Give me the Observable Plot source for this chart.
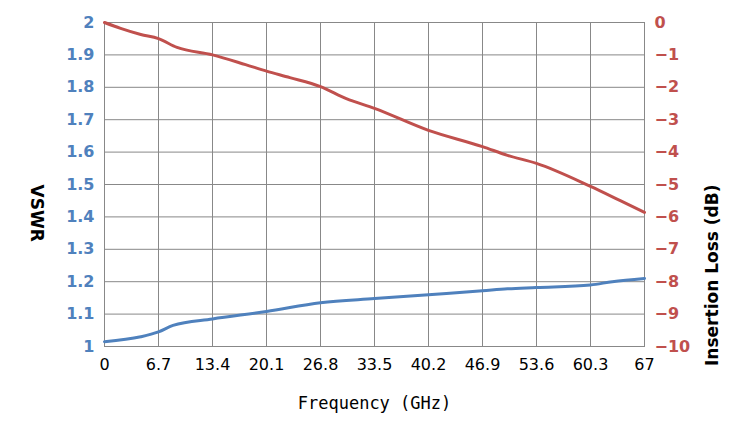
<!DOCTYPE html>
<html><head>
<script src="https://cdn.jsdelivr.net/npm/d3@7"></script>
<script src="https://cdn.jsdelivr.net/npm/@observablehq/plot@0.6"></script>
<style>body{margin:0;background:#fff}</style>
</head><body><div id="c"></div>
<script>
const xTicks = [0, 6.7, 13.4, 20.1, 26.8, 33.5, 40.2, 46.9, 53.6, 60.3, 67];
const vswrTicks = [1, 1.1, 1.2, 1.3, 1.4, 1.5, 1.6, 1.7, 1.8, 1.9, 2];
const lossTicks = [0, -1, -2, -3, -4, -5, -6, -7, -8, -9, -10];
const vswrFreq = [0, 4.5, 6.7, 8.5, 13.4, 20.1, 26.8, 33.5, 40.2, 46.9, 50, 53.6, 60.3, 63, 67];
const vswrVal = [1.015, 1.03, 1.045, 1.065, 1.085, 1.108, 1.135, 1.148, 1.16, 1.172, 1.178, 1.182, 1.19, 1.2, 1.21];
const lossFreq = [0, 2, 4.5, 6.7, 9, 13.4, 17.5, 20.1, 23, 26.8, 30, 33.5, 40.2, 46.9, 50, 53.6, 60.3, 64, 67];
const lossVal = [0, -0.18, -0.37, -0.5, -0.77, -1.0, -1.3, -1.5, -1.7, -1.98, -2.35, -2.65, -3.33, -3.83, -4.1, -4.35, -5.06, -5.5, -5.86];

const vswr = vswrFreq.map((f, i) => ({f, v: vswrVal[i]}));
const loss = lossFreq.map((f, i) => ({f, v: 2 + lossVal[i] / 10}));
const blue = "#4f81bd", red = "#c0504d";
const font = "DejaVu Sans";
const chart = Plot.plot({
  width: 749, height: 444,
  marginLeft: 104, marginRight: 105, marginTop: 22, marginBottom: 98,
  style: {fontFamily: font, fontSize: "16px"},
  x: {domain: [0, 67]},
  y: {domain: [1, 2]},
  marks: [
    Plot.gridX(xTicks, {stroke: "#888", strokeOpacity: 1}),
    Plot.gridY(vswrTicks, {stroke: "#888", strokeOpacity: 1}),
    Plot.frame({stroke: "#888"}),
    Plot.axisX(xTicks, {tickSize: 0, tickPadding: 12, tickFormat: d => String(d), fill: "#000", fontSize: 16, label: null}),
    Plot.axisY(vswrTicks, {tickSize: 0, tickPadding: 10, tickFormat: d => String(+d.toFixed(1)), fill: blue, fontWeight: "bold", fontSize: 16, label: null}),
    Plot.axisY(vswrTicks, {anchor: "right", tickSize: 0, tickPadding: 10, tickFormat: d => String(Math.round((d - 2) * 10)).replace("-", "−"), fill: red, fontWeight: "bold", fontSize: 16, textAnchor: "start", label: null}),
    Plot.line(vswr, {x: "f", y: "v", stroke: blue, strokeWidth: 3, curve: "monotone-x"}),
    Plot.line(loss, {x: "f", y: "v", stroke: red, strokeWidth: 3, curve: "monotone-x"}),
    Plot.text(["Frequency (GHz)"], {frameAnchor: "bottom", dy: 62, fontFamily: "DejaVu Sans Mono", fontSize: 17, fill: "#000"}),
    Plot.text(["VSWR"], {frameAnchor: "left", dx: -68, rotate: 90, fontWeight: "bold", fontSize: 17, fill: "#000"}),
    Plot.text(["Insertion Loss (dB)"], {frameAnchor: "right", dx: 68, rotate: -90, fontWeight: "bold", fontSize: 17, fill: "#000"})
  ]
});
document.getElementById("c").appendChild(chart);
</script></body></html>
